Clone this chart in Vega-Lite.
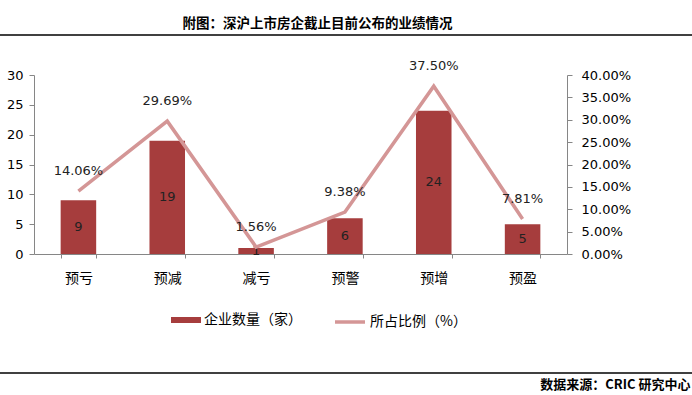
{
  "$schema": "https://vega.github.io/schema/vega-lite/v6.json",
  "width": 533,
  "height": 179,
  "autosize": "none",
  "padding": {"left": 34, "top": 75, "right": 125, "bottom": 141},
  "background": "#ffffff",
  "config": {"view": {"stroke": null}, "font": "DejaVu Sans"},
  "title": {
    "text": "附图：深沪上市房企截止目前公布的业绩情况",
    "font": "Noto Sans CJK SC",
    "fontSize": 13.5,
    "fontWeight": "bold",
    "color": "#000000",
    "anchor": "middle",
    "dx": 17,
    "offset": 4
  },
  "data": {
    "values": [
      {"cat": "预亏", "count": 9, "pct": 0.1406},
      {"cat": "预减", "count": 19, "pct": 0.2969},
      {"cat": "减亏", "count": 1, "pct": 0.0156},
      {"cat": "预警", "count": 6, "pct": 0.0938},
      {"cat": "预增", "count": 24, "pct": 0.375},
      {"cat": "预盈", "count": 5, "pct": 0.0781}
    ]
  },
  "layer": [
    {
      "mark": {"type": "bar"},
      "encoding": {
        "x": {
          "field": "cat", "type": "nominal", "sort": null,
          "scale": {"paddingInner": 0.6, "paddingOuter": 0.3},
          "axis": {
            "title": "数据来源：CRIC 研究中心",
            "titleX": 656, "titleY": 130,
            "titleAlign": "right", "titleBaseline": "middle",
            "titleFont": "Noto Sans CJK SC", "titleFontWeight": "bold", "titleFontSize": 13, "titleColor": "#000000",
            "labelFont": "Noto Sans CJK SC", "labelFontSize": 14, "labelColor": "#000000", "labelAngle": 0,
            "labelPadding": 13,
            "tickBand": "extent", "tickSize": 4, "tickColor": "#868686", "domainColor": "#868686", "grid": false
          }
        },
        "y": {
          "field": "count", "type": "quantitative",
          "scale": {"domain": [0, 30], "nice": false},
          "axis": {
            "values": [0, 5, 10, 15, 20, 25, 30], "title": null, "grid": false,
            "labelFont": "DejaVu Sans", "labelFontSize": 13, "labelColor": "#000000",
            "domainColor": "#868686", "tickColor": "#868686", "tickSize": 5, "labelPadding": 6
          }
        },
        "fill": {
          "datum": "企业数量（家）",
          "scale": {"range": ["#A63D3D"]},
          "legend": {
            "title": null, "orient": "none", "legendX": 137, "legendY": 230,
            "symbolType": "M-1,-0.2H1V0.2H-1Z", "symbolSize": 900, "symbolStrokeWidth": 0,
            "labelFont": "Noto Sans CJK SC", "labelFontSize": 14, "labelColor": "#000000", "labelOffset": 3
          }
        }
      }
    },
    {
      "mark": {"type": "text", "font": "DejaVu Sans", "fontSize": 13, "color": "#222222", "baseline": "middle"},
      "encoding": {
        "x": {"field": "cat", "type": "nominal", "sort": null},
        "y": {"field": "count", "type": "quantitative", "scale": {"domain": [0, 60], "nice": false}, "axis": null},
        "text": {"field": "count", "type": "quantitative"}
      }
    },
    {
      "mark": {"type": "line", "strokeWidth": 3.5},
      "encoding": {
        "x": {"field": "cat", "type": "nominal", "sort": null},
        "y": {
          "field": "pct", "type": "quantitative",
          "scale": {"domain": [0, 0.4], "nice": false},
          "axis": {
            "orient": "right", "format": ".2%",
            "values": [0, 0.05, 0.1, 0.15, 0.2, 0.25, 0.3, 0.35, 0.4], "title": null, "grid": false,
            "labelFont": "DejaVu Sans", "labelFontSize": 13, "labelColor": "#000000",
            "domainColor": "#868686", "tickColor": "#868686", "tickSize": 5, "labelPadding": 9
          }
        },
        "stroke": {
          "datum": "所占比例（%）",
          "scale": {"range": ["#D49696"]},
          "legend": {
            "title": null, "orient": "none", "legendX": 299, "legendY": 230,
            "symbolType": "stroke", "symbolSize": 900, "symbolStrokeWidth": 3.5,
            "labelFont": "Noto Sans CJK SC", "labelFontSize": 14, "labelColor": "#000000", "labelOffset": 3
          }
        }
      }
    },
    {
      "mark": {"type": "text", "font": "DejaVu Sans", "fontSize": 13, "color": "#222222", "baseline": "middle", "dy": -20},
      "encoding": {
        "x": {"field": "cat", "type": "nominal", "sort": null},
        "y": {"field": "pct", "type": "quantitative", "scale": {"domain": [0, 0.4], "nice": false}, "axis": null},
        "text": {"field": "pct", "type": "quantitative", "format": ".2%"}
      }
    },
    {
      "data": {"values": [{"pos": "top"}]},
      "mark": {"type": "rule", "color": "#000000", "strokeWidth": 1.5},
      "encoding": {"x": {"value": -34}, "x2": {"value": 658}, "y": {"value": -40}}
    },
    {
      "data": {"values": [{"pos": "bottom"}]},
      "mark": {"type": "rule", "color": "#000000", "strokeWidth": 1.5},
      "encoding": {"x": {"value": -34}, "x2": {"value": 658}, "y": {"value": 298}}
    }
  ],
  "resolve": {"scale": {"y": "independent", "fill": "independent", "stroke": "independent"}}
}
